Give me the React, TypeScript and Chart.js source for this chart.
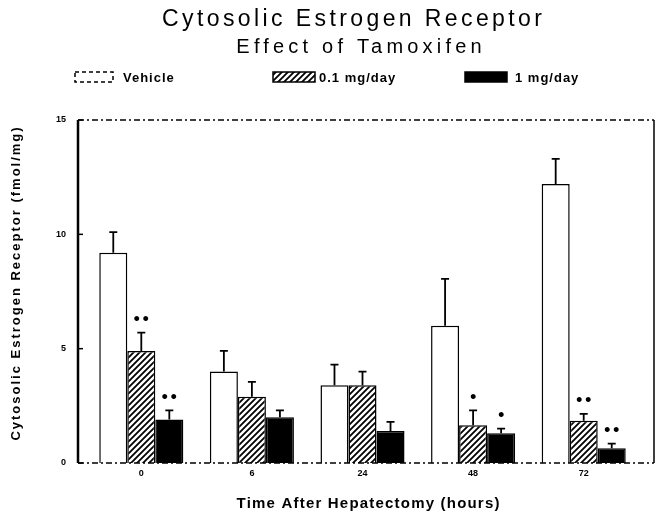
import React, { useEffect, useRef } from "react";
import { Chart, registerables } from "chart.js";
Chart.register(...registerables);

const categories = ["0", "6", "24", "48", "72"];
const seriesNames = ["Vehicle", "0.1 mg/day", "1 mg/day"];
const vehicle = [9.2, 4.0, 3.4, 6.0, 12.2];
const vehicleErr = [0.9, 0.9, 0.9, 2.05, 1.1];
const lowDose = [4.9, 2.9, 3.4, 1.65, 1.85];
const lowDoseErr = [0.8, 0.65, 0.6, 0.65, 0.3];
const highDose = [1.9, 2.0, 1.4, 1.3, 0.65];
const highDoseErr = [0.4, 0.3, 0.4, 0.2, 0.2];
const vehicleSig = ["", "", "", "", ""];
const lowDoseSig = ["••", "", "", "•", "••"];
const highDoseSig = ["••", "", "", "•", "••"];
const yTicks = [0, 5, 10, 15];
const titleText = "Cytosolic Estrogen Receptor";
const subtitleText = "Effect of Tamoxifen";
const xTitle = "Time After Hepatectomy (hours)";
const yTitle = "Cytosolic Estrogen Receptor (fmol/mg)";

const errs = [vehicleErr, lowDoseErr, highDoseErr];
const sigs = [vehicleSig, lowDoseSig, highDoseSig];

function makeHatch(): CanvasPattern | string {
  const c = document.createElement("canvas");
  c.width = 6;
  c.height = 6;
  const g = c.getContext("2d");
  if (!g) return "#888";
  g.fillStyle = "#fff";
  g.fillRect(0, 0, 6, 6);
  g.strokeStyle = "#000";
  g.lineWidth = 1.8;
  g.beginPath();
  g.moveTo(-1, 7);
  g.lineTo(7, -1);
  g.moveTo(-4, 4);
  g.lineTo(4, -4);
  g.moveTo(2, 10);
  g.lineTo(10, 2);
  g.stroke();
  const p = g.createPattern(c, "repeat");
  return p || "#888";
}

function spaced(ctx: any, text: string, cx: number, cy: number, font: string, spacing: number) {
  ctx.font = font;
  ctx.letterSpacing = spacing + "px";
  const w = ctx.measureText(text).width;
  ctx.textAlign = "left";
  ctx.textBaseline = "middle";
  ctx.fillText(text, cx - (w - spacing) / 2, cy);
  ctx.letterSpacing = "0px";
}

export default function App() {
  const ref = useRef<HTMLCanvasElement>(null);
  useEffect(() => {
    document.body.style.margin = "0";
    const hatch = makeHatch();
    const fills: any[] = ["#ffffff", hatch, "#000000"];

    const overlay = {
      id: "overlay",
      afterDraw(chart: any) {
        const ctx = chart.ctx;
        const { left, right, top, bottom } = chart.chartArea;
        const y = chart.scales.y;
        const axisX = left - 8;
        const frameR = right + 15;
        ctx.save();
        ctx.fillStyle = "#000";
        // titles
        spaced(ctx, titleText, 352, 20, "23px 'Liberation Sans', sans-serif", 3.4);
        spaced(ctx, subtitleText, 359, 47, "20px 'Liberation Sans', sans-serif", 4.2);
        // legend
        ctx.font = "bold 13px 'Liberation Sans', sans-serif";
        const ly = 77;
        const items = [
          { bx: 75, bw: 38, tx: 123 },
          { bx: 273, bw: 42, tx: 319 },
          { bx: 465, bw: 42, tx: 515 },
        ];
        items.forEach((it, i) => {
          ctx.fillStyle = fills[i];
          ctx.fillRect(it.bx, ly - 5, it.bw, 10);
          ctx.strokeStyle = "#000";
          ctx.lineWidth = 1.5;
          if (i === 0) ctx.setLineDash([4, 3]);
          ctx.strokeRect(it.bx, ly - 5, it.bw, 10);
          ctx.setLineDash([]);
          ctx.fillStyle = "#000";
          ctx.textAlign = "left";
          ctx.textBaseline = "middle";
          ctx.letterSpacing = "1px";
          ctx.fillText(seriesNames[i], it.tx, ly + 1);
          ctx.letterSpacing = "0px";
        });
        // axis titles
        spaced(ctx, xTitle, 368, 504, "bold 15px 'Liberation Sans', sans-serif", 1.2);
        ctx.save();
        ctx.translate(16, 284);
        ctx.rotate(-Math.PI / 2);
        spaced(ctx, yTitle, 0, 0, "bold 13px 'Liberation Sans', sans-serif", 2.0);
        ctx.restore();
        // frame
        ctx.strokeStyle = "#000";
        ctx.lineWidth = 1.5;
        ctx.setLineDash([6, 3, 2, 3]);
        ctx.beginPath();
        ctx.moveTo(axisX, top);
        ctx.lineTo(frameR, top);
        ctx.moveTo(axisX, bottom);
        ctx.lineTo(frameR, bottom);
        ctx.stroke();
        ctx.setLineDash([]);
        ctx.beginPath();
        ctx.moveTo(frameR, top);
        ctx.lineTo(frameR, bottom);
        ctx.stroke();
        ctx.lineWidth = 2.5;
        ctx.beginPath();
        ctx.moveTo(axisX, top);
        ctx.lineTo(axisX, bottom);
        ctx.stroke();
        ctx.lineWidth = 1.5;
        yTicks.forEach((v) => {
          const py = y.getPixelForValue(v);
          ctx.beginPath();
          ctx.moveTo(axisX, py);
          ctx.lineTo(axisX + 5, py);
          ctx.stroke();
        });
        // error bars and significance marks
        chart.data.datasets.forEach((ds: any, di: number) => {
          const meta = chart.getDatasetMeta(di);
          meta.data.forEach((bar: any, i: number) => {
            const v = ds.data[i];
            const e = errs[di][i];
            const yTop = y.getPixelForValue(v + e);
            ctx.lineWidth = 1.8;
            ctx.beginPath();
            ctx.moveTo(bar.x, bar.y);
            ctx.lineTo(bar.x, yTop);
            ctx.moveTo(bar.x - 4, yTop);
            ctx.lineTo(bar.x + 4, yTop);
            ctx.stroke();
            const s = sigs[di][i];
            if (s) {
              ctx.font = "bold 14px 'DejaVu Sans', sans-serif";
              ctx.textAlign = "center";
              ctx.textBaseline = "middle";
              ctx.fillText(s, bar.x, yTop - 12);
            }
          });
        });
        ctx.restore();
      },
    };

    const chart = new Chart(ref.current as HTMLCanvasElement, {
      type: "bar",
      data: {
        labels: categories,
        datasets: [vehicle, lowDose, highDose].map((d, i) => ({
          label: seriesNames[i],
          data: d,
          backgroundColor: fills[i],
          borderColor: "#000",
          borderWidth: 1.5,
          borderSkipped: "bottom" as const,
          categoryPercentage: 0.76,
          barPercentage: 1.0,
        })),
      },
      options: {
        animation: false,
        responsive: false,
        maintainAspectRatio: false,
        layout: { padding: { top: 120, right: 24, left: 0, bottom: 0 } },
        plugins: {
          legend: { display: false },
          title: { display: false },
          tooltip: { enabled: false },
        },
        scales: {
          x: {
            grid: { display: false, drawTicks: false },
            border: { display: false },
            ticks: {
              color: "#000",
              padding: 5,
              font: { family: "'Liberation Sans', sans-serif", size: 9, weight: "bold" },
            },
            afterFit: (s: any) => {
              s.height = 55;
            },
          },
          y: {
            min: 0,
            max: 15,
            afterBuildTicks: (s: any) => {
              s.ticks = yTicks.map((v) => ({ value: v }));
            },
            grid: { display: false, drawTicks: false },
            border: { display: false },
            ticks: {
              color: "#000",
              padding: 20,
              font: { family: "'Liberation Sans', sans-serif", size: 9, weight: "bold" },
            },
            afterFit: (s: any) => {
              s.width = 86;
            },
          },
        },
      },
      plugins: [overlay],
    } as any);
    return () => chart.destroy();
  }, []);
  return <canvas ref={ref} width={663} height={518} style={{ display: "block" }} />;
}
